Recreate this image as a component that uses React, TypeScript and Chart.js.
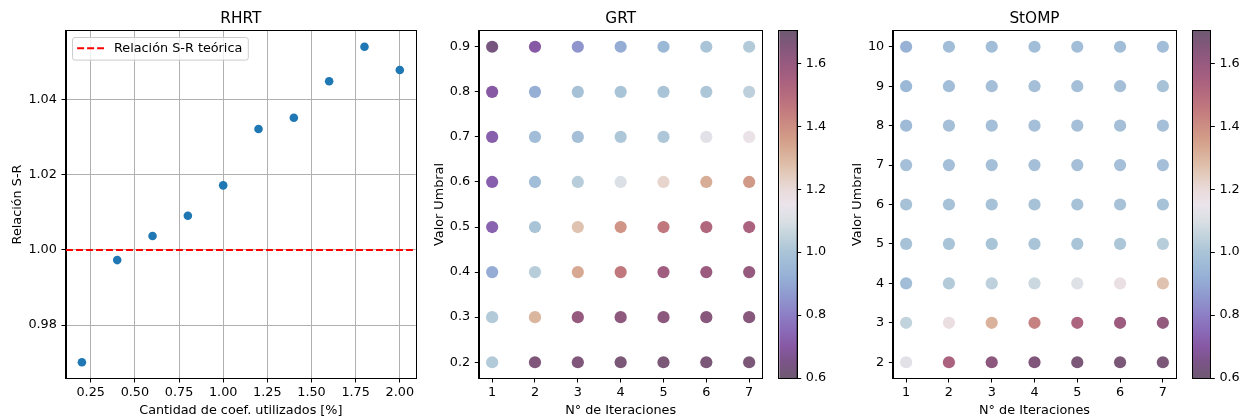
import React, { useEffect, useRef } from "react";
import { Chart, registerables } from "chart.js";

Chart.register(...registerables);

// ---------------- Data ----------------
const rhrtCoefPct = [0.2, 0.4, 0.6, 0.8, 1.0, 1.2, 1.4, 1.6, 1.8, 2.0];
const rhrtRatio = [0.9701, 0.9973, 1.0037, 1.0091, 1.0172, 1.0322, 1.0352, 1.0449, 1.0541, 1.0479];
const rhrtXTicks = [0.25, 0.5, 0.75, 1.0, 1.25, 1.5, 1.75, 2.0];
const rhrtYTicks = [0.98, 1.0, 1.02, 1.04];
const theoreticalRatio = 1.0;
const theoreticalLabel = "Relación S-R teórica";

const iterations = [1, 2, 3, 4, 5, 6, 7];

const grtThresholds = [0.9, 0.8, 0.7, 0.6, 0.5, 0.4, 0.3, 0.2];
const grtValues = [
  [0.63, 0.70, 0.85, 0.91, 0.95, 1.00, 1.02],
  [0.70, 0.92, 0.99, 1.00, 1.00, 1.01, 1.04],
  [0.72, 0.97, 0.98, 1.01, 1.01, 1.12, 1.16],
  [0.72, 0.97, 1.03, 1.10, 1.22, 1.32, 1.37],
  [0.73, 1.00, 1.27, 1.38, 1.46, 1.52, 1.54],
  [0.91, 1.03, 1.33, 1.46, 1.57, 1.59, 1.60],
  [1.02, 1.30, 1.60, 1.62, 1.63, 1.64, 1.64],
  [1.02, 1.66, 1.66, 1.67, 1.67, 1.67, 1.67],
];

const stompThresholds = [10, 9, 8, 7, 6, 5, 4, 3, 2];
const stompValues = [
  [0.93, 0.97, 0.97, 0.97, 0.97, 0.97, 0.97],
  [0.95, 0.97, 0.98, 0.98, 0.98, 0.98, 0.99],
  [0.96, 0.98, 0.98, 0.98, 0.98, 0.98, 0.98],
  [0.98, 0.98, 0.98, 0.98, 0.98, 0.98, 0.98],
  [0.99, 0.99, 0.99, 0.99, 0.99, 0.99, 0.99],
  [0.99, 1.00, 1.00, 1.00, 1.00, 1.01, 1.03],
  [0.97, 1.02, 1.04, 1.07, 1.11, 1.17, 1.27],
  [1.05, 1.18, 1.31, 1.43, 1.53, 1.58, 1.61],
  [1.12, 1.54, 1.63, 1.66, 1.67, 1.67, 1.67],
];

const cbTicks = [0.6, 0.8, 1.0, 1.2, 1.4, 1.6];
const cbMin = 0.6;
const cbMax = 1.703;

// twilight_shifted colormap (alpha 0.7 over white), sampled
const cmapStops = [0.0, 0.045, 0.09, 0.136, 0.182, 0.227, 0.273, 0.318, 0.364, 0.409, 0.455, 0.5, 0.545, 0.591, 0.636, 0.682, 0.727, 0.773, 0.818, 0.864, 0.909, 0.955, 1.0];
const cmapColors = [
  "#6e5972", "#7b5487", "#8758a3", "#8a6ab8", "#8d7fc5", "#8f94cd", "#93a9d4", "#9cb8d7",
  "#aac4d7", "#c2d3dc", "#dbe0e5", "#ebe4eb", "#e9dad9", "#e2c9b9", "#dbb59e", "#d4a08b",
  "#cc8d82", "#c27a7e", "#b56b7e", "#a65f7f", "#965a7f", "#83577b", "#6e5972",
];

// ---------------- Helpers ----------------
const FONT = "'DejaVu Sans', sans-serif";
const tickFont = { family: FONT, size: 12.8 };
const labelFont = { family: FONT, size: 12.8 };
const titleFont = { family: FONT, size: 15.3, weight: "normal" as const };

function hexToRgb(h: string) {
  const n = parseInt(h.slice(1), 16);
  return [(n >> 16) & 255, (n >> 8) & 255, n & 255];
}
function cmap(v: number) {
  let t = (v - cbMin) / (cbMax - cbMin);
  t = Math.max(0, Math.min(1, t));
  let i = 0;
  while (i < cmapStops.length - 2 && t > cmapStops[i + 1]) i++;
  const f = (t - cmapStops[i]) / (cmapStops[i + 1] - cmapStops[i]);
  const a = hexToRgb(cmapColors[i]);
  const b = hexToRgb(cmapColors[i + 1]);
  const c = a.map((x, k) => Math.round(x + (b[k] - x) * f));
  return `rgb(${c[0]},${c[1]},${c[2]})`;
}

function limits(vals: number[]) {
  const mn = Math.min(...vals);
  const mx = Math.max(...vals);
  const p = (mx - mn) * 0.05;
  return [mn - p, mx + p];
}

const framePlugin = {
  id: "frame",
  afterDraw(chart: any) {
    const { left, top, right, bottom } = chart.chartArea;
    const ctx = chart.ctx;
    ctx.save();
    ctx.strokeStyle = "#000";
    ctx.lineWidth = 1;
    const l = Math.round(left) - 0.5, t = Math.round(top) - 0.5;
    const r = Math.round(right) + 0.5, b = Math.round(bottom) + 0.5;
    ctx.strokeRect(l, t, r - l, b - t);
    ctx.restore();
  },
};

const legendPlugin = {
  id: "inlineLegend",
  afterDatasetsDraw(chart: any) {
    const ds = chart.data.datasets.find((d: any) => d.label === theoreticalLabel);
    if (!ds) return;
    const { left, top } = chart.chartArea;
    const ctx = chart.ctx;
    ctx.save();
    ctx.font = `12.8px ${FONT}`;
    const bx = left + 6.5, by = top + 6.5;
    const textX = bx + 41.5;
    const tw = ctx.measureText(ds.label).width;
    const bw = textX - bx + tw + 6, bh = 22.6;
    const r = 2.5;
    ctx.beginPath();
    ctx.moveTo(bx + r, by);
    ctx.arcTo(bx + bw, by, bx + bw, by + bh, r);
    ctx.arcTo(bx + bw, by + bh, bx, by + bh, r);
    ctx.arcTo(bx, by + bh, bx, by, r);
    ctx.arcTo(bx, by, bx + bw, by, r);
    ctx.closePath();
    ctx.fillStyle = "rgba(255,255,255,0.8)";
    ctx.fill();
    ctx.strokeStyle = "#cccccc";
    ctx.lineWidth = 1;
    ctx.stroke();
    ctx.beginPath();
    ctx.setLineDash(ds.borderDash);
    ctx.strokeStyle = ds.borderColor;
    ctx.lineWidth = ds.borderWidth;
    ctx.moveTo(bx + 4.6, by + 10.8);
    ctx.lineTo(bx + 31.5, by + 10.8);
    ctx.stroke();
    ctx.setLineDash([]);
    ctx.fillStyle = "#000";
    ctx.textBaseline = "alphabetic";
    ctx.fillText(ds.label, textX, by + 14.9);
    ctx.restore();
  },
};

const colorbarPlugin = {
  id: "colorbar",
  beforeDatasetsDraw(chart: any) {
    const { left, top, right, bottom } = chart.chartArea;
    const y = chart.scales.y;
    const ctx = chart.ctx;
    const g = ctx.createLinearGradient(0, y.getPixelForValue(cbMin), 0, y.getPixelForValue(cbMax));
    cmapStops.forEach((s, i) => g.addColorStop(s, cmapColors[i]));
    ctx.save();
    ctx.fillStyle = g;
    ctx.fillRect(left, top, right - left, bottom - top);
    ctx.restore();
  },
};

function setTicks(vals: number[]) {
  return (scale: any) => {
    scale.ticks = vals.map((value) => ({ value }));
  };
}

function axisCommon(grid: boolean) {
  return {
    grid: {
      display: true,
      drawOnChartArea: grid,
      color: "#b0b0b0",
      lineWidth: 1,
      tickColor: "#000",
      tickLength: 4.5,
      tickWidth: 1,
    },
    border: { display: true, color: "#000", width: 1 },
  };
}

function scatterPanel(
  canvas: HTMLCanvasElement,
  opts: {
    title: string;
    xLabel: string;
    yLabel: string;
    xTicks: number[];
    yTicks: number[];
    xFmt: (v: number) => string;
    yFmt: (v: number) => string;
    xLim: number[];
    yLim: number[];
    yAxisWidth: number;
    yTitlePad: number;
    padRight: number;
    grid: boolean;
    datasets: any[];
    plugins: any[];
  }
) {
  const c = axisCommon(opts.grid);
  return new Chart(canvas, {
    type: "scatter",
    data: { datasets: opts.datasets },
    plugins: opts.plugins,
    options: {
      responsive: false,
      animation: false,
      devicePixelRatio: 1,
      layout: { padding: { left: 0, top: 0, right: opts.padRight, bottom: 0 } },
      plugins: {
        legend: { display: false },
        tooltip: { enabled: false },
        title: {
          display: true,
          text: opts.title,
          fullSize: false,
          color: "#000",
          font: titleFont,
          padding: { top: 9.5, bottom: 3.14 },
        },
      },
      scales: {
        x: {
          type: "linear",
          position: "bottom",
          min: opts.xLim[0],
          max: opts.xLim[1],
          afterFit: (s: any) => { s.height = 41; },
          afterBuildTicks: setTicks(opts.xTicks),
          ticks: {
            font: tickFont,
            color: "#000",
            padding: 2.9,
            autoSkip: false,
            maxRotation: 0,
            callback: (v: any) => opts.xFmt(Number(v)),
          },
          title: { display: true, text: opts.xLabel, color: "#000", font: labelFont, padding: { top: 0, bottom: 1 } },
          ...c,
        },
        y: {
          type: "linear",
          position: "left",
          min: opts.yLim[0],
          max: opts.yLim[1],
          afterFit: (s: any) => { s.width = opts.yAxisWidth; },
          afterBuildTicks: setTicks(opts.yTicks),
          ticks: {
            font: tickFont,
            color: "#000",
            padding: 4.6,
            autoSkip: false,
            callback: (v: any) => opts.yFmt(Number(v)),
          },
          title: { display: true, text: opts.yLabel, color: "#000", font: labelFont, padding: { top: opts.yTitlePad, bottom: 0 } },
          ...c,
        },
      },
    },
  } as any);
}

function colorbarChart(canvas: HTMLCanvasElement, padLeft: number, axisWidth: number) {
  return new Chart(canvas, {
    type: "scatter",
    data: { datasets: [] },
    plugins: [colorbarPlugin, framePlugin],
    options: {
      responsive: false,
      animation: false,
      devicePixelRatio: 1,
      layout: { padding: { left: padLeft, top: 31, right: 0, bottom: 41 } },
      plugins: { legend: { display: false }, tooltip: { enabled: false } },
      scales: {
        x: { display: false, min: 0, max: 1 },
        y: {
          type: "linear",
          position: "right",
          min: cbMin,
          max: cbMax,
          afterFit: (s: any) => { s.width = axisWidth; },
          afterBuildTicks: setTicks(cbTicks),
          ticks: {
            font: tickFont,
            color: "#000",
            padding: 4.6,
            autoSkip: false,
            callback: (v: any) => Number(v).toFixed(1),
          },
          grid: { display: true, drawOnChartArea: false, tickColor: "#000", tickLength: 4.5, tickWidth: 1 },
          border: { display: true, color: "#000", width: 1 },
        },
      },
    },
  } as any);
}

function gridPoints(thresholds: number[], values: number[][]) {
  const pts: any[] = [];
  const colors: string[] = [];
  thresholds.forEach((th, r) => {
    iterations.forEach((it, c) => {
      pts.push({ x: it, y: th });
      colors.push(cmap(values[r][c]));
    });
  });
  return { pts, colors };
}

export default function App() {
  const c1 = useRef<HTMLCanvasElement>(null);
  const c2 = useRef<HTMLCanvasElement>(null);
  const c2b = useRef<HTMLCanvasElement>(null);
  const c3 = useRef<HTMLCanvasElement>(null);
  const c3b = useRef<HTMLCanvasElement>(null);

  useEffect(() => {
    const charts: Chart[] = [];
    const xl1 = limits(rhrtCoefPct);
    const yl1 = limits(rhrtRatio);
    charts.push(
      scatterPanel(c1.current!, {
        title: "RHRT",
        xLabel: "Cantidad de coef. utilizados [%]",
        yLabel: "Relación S-R",
        xTicks: rhrtXTicks,
        yTicks: rhrtYTicks,
        xFmt: (v) => v.toFixed(2),
        yFmt: (v) => v.toFixed(2),
        xLim: xl1,
        yLim: yl1,
        yAxisWidth: 66,
        yTitlePad: 9.6,
        padRight: 2,
        grid: true,
        plugins: [framePlugin, legendPlugin],
        datasets: [
          {
            label: "data",
            data: rhrtCoefPct.map((x, i) => ({ x, y: rhrtRatio[i] })),
            backgroundColor: "#1f77b4",
            borderWidth: 0,
            pointRadius: 4.3,
            pointHoverRadius: 4.3,
          },
          {
            type: "line",
            label: theoreticalLabel,
            data: [
              { x: xl1[0], y: theoreticalRatio },
              { x: xl1[1], y: theoreticalRatio },
            ],
            borderColor: "#ff0000",
            borderDash: [7, 3],
            borderWidth: 1.9,
            pointRadius: 0,
            fill: false,
          },
        ],
      })
    );

    const g = gridPoints(grtThresholds, grtValues);
    charts.push(
      scatterPanel(c2.current!, {
        title: "GRT",
        xLabel: "N° de Iteraciones",
        yLabel: "Valor Umbral",
        xTicks: iterations,
        yTicks: grtThresholds,
        xFmt: (v) => String(Math.round(v)),
        yFmt: (v) => v.toFixed(1),
        xLim: limits(iterations),
        yLim: limits(grtThresholds),
        yAxisWidth: 59.3,
        yTitlePad: 11.9,
        padRight: 8,
        grid: false,
        plugins: [framePlugin],
        datasets: [
          {
            label: "GRT",
            data: g.pts,
            backgroundColor: g.colors,
            borderWidth: 0,
            pointRadius: 6.1,
            pointHoverRadius: 6.1,
          },
        ],
      })
    );
    charts.push(colorbarChart(c2b.current!, 9.3, 43.3));

    const s = gridPoints(stompThresholds, stompValues);
    charts.push(
      scatterPanel(c3.current!, {
        title: "StOMP",
        xLabel: "N° de Iteraciones",
        yLabel: "Valor Umbral",
        xTicks: iterations,
        yTicks: stompThresholds,
        xFmt: (v) => String(Math.round(v)),
        yFmt: (v) => String(Math.round(v)),
        xLim: limits(iterations),
        yLim: limits(stompThresholds),
        yAxisWidth: 53.3,
        yTitlePad: 10.2,
        padRight: 7.3,
        grid: false,
        plugins: [framePlugin],
        datasets: [
          {
            label: "StOMP",
            data: s.pts,
            backgroundColor: s.colors,
            borderWidth: 0,
            pointRadius: 6.1,
            pointHoverRadius: 6.1,
          },
        ],
      })
    );
    charts.push(colorbarChart(c3b.current!, 9.7, 40.7));

    return () => charts.forEach((ch) => ch.destroy());
  }, []);

  const cs = (left: number, width: number): React.CSSProperties => ({
    position: "absolute",
    left,
    top: 0,
    width,
    height: 419,
  });

  return (
    <div style={{ position: "absolute", left: 0, top: 0, width: 1251, height: 419, background: "#fff", overflow: "hidden" }}>
      <canvas ref={c1} width={420} height={419} style={cs(0, 420)} />
      <canvas ref={c2} width={350} height={419} style={cs(420, 350)} />
      <canvas ref={c2b} width={70} height={419} style={cs(770, 70)} />
      <canvas ref={c3} width={343} height={419} style={cs(840, 343)} />
      <canvas ref={c3b} width={68} height={419} style={cs(1183, 68)} />
    </div>
  );
}
